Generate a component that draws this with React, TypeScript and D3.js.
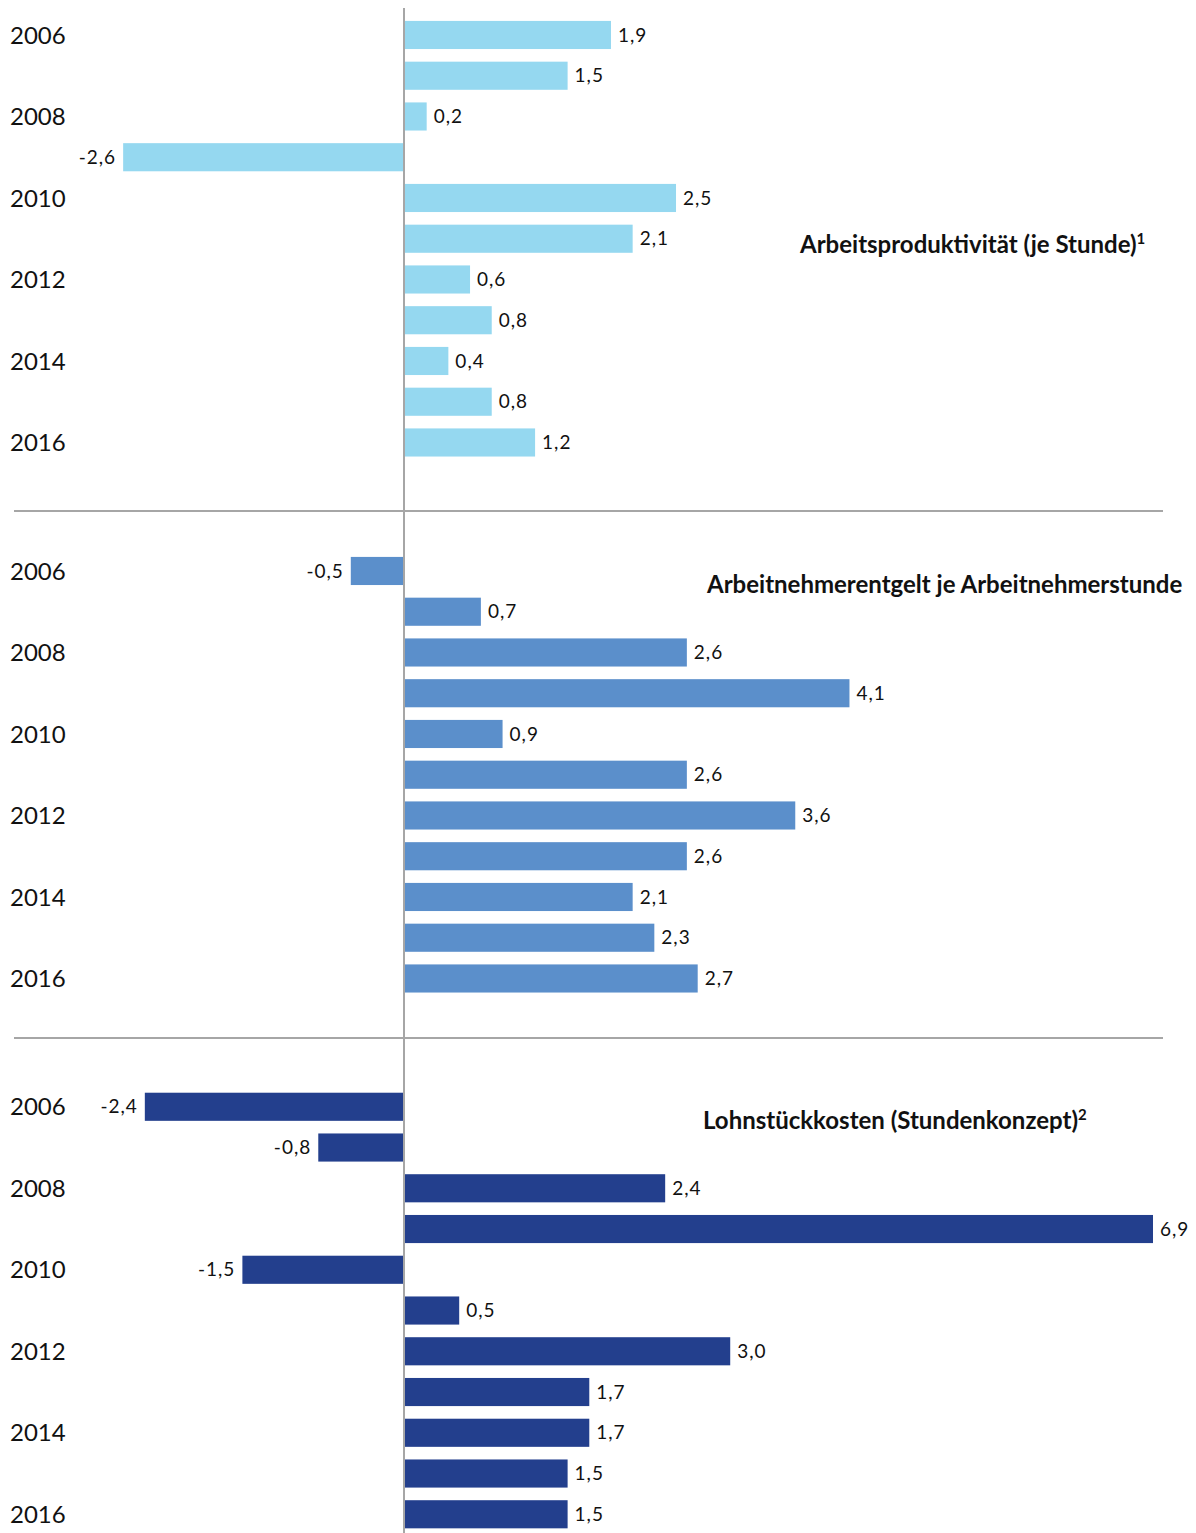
import { useEffect, useRef } from 'react';
import * as d3 from 'd3';

// years shown on the category axis (every other year labelled)
const years = ['2006', '2007', '2008', '2009', '2010', '2011', '2012', '2013', '2014', '2015', '2016'];
const yearLabels = ['2006', '2008', '2010', '2012', '2014', '2016'];

// Veränderung gegenüber Vorjahr in %
const produktivitaet = [1.9, 1.5, 0.2, -2.6, 2.5, 2.1, 0.6, 0.8, 0.4, 0.8, 1.2];
const entgelt = [-0.5, 0.7, 2.6, 4.1, 0.9, 2.6, 3.6, 2.6, 2.1, 2.3, 2.7];
const lohnstueck = [-2.4, -0.8, 2.4, 6.9, -1.5, 0.5, 3.0, 1.7, 1.7, 1.5, 1.5];

const titles = [
	{ text: 'Arbeitsproduktivität (je Stunde)', sup: '1' },
	{ text: 'Arbeitnehmerentgelt je Arbeitnehmerstunde', sup: '' },
	{ text: 'Lohnstückkosten (Stundenkonzept)', sup: '2' },
];
const colors = ['#95d8f0', '#5b8fcb', '#233f8d'];

const App = () => {
	const ref = useRef<SVGSVGElement>(null);

	useEffect(() => {
		const width = 1196,
			height = 1533;
		const svg = d3.select(ref.current).attr('width', width).attr('height', height);
		svg.selectAll('*').remove();

		const x = d3.scaleLinear().domain([0, 6.9]).range([405, 1153]);
		const fmt = (v: number) => d3.format('.1f')(v).replace('.', ',').replace('\u2212', '-');

		const panels = [
			{ data: produktivitaet, top: 14.6, titleX: 800, titleY: 253 },
			{ data: entgelt, top: 550.6, titleX: 707, titleY: 593 },
			{ data: lohnstueck, top: 1086.4, titleX: 703, titleY: 1129 },
		];

		panels.forEach((p, i) => {
			const y = d3
				.scaleBand()
				.domain(years)
				.range([p.top, p.top + 11 * 40.75])
				.paddingInner(0.31)
				.paddingOuter(0.155);

			const g = svg.append('g');

			g.selectAll('rect')
				.data(p.data)
				.join('rect')
				.attr('x', (d) => Math.min(x(0), x(d)))
				.attr('y', (_, j) => y(years[j])!)
				.attr('width', (d) => Math.abs(x(d) - x(0)))
				.attr('height', y.bandwidth())
				.attr('fill', colors[i]);

			g.selectAll('text.val')
				.data(p.data)
				.join('text')
				.attr('class', 'val')
				.attr('x', (d) => (d < 0 ? x(d) - 7 : x(d) + 7))
				.attr('y', (_, j) => y(years[j])! + y.bandwidth() / 2)
				.attr('dy', '0.35em')
				.attr('text-anchor', (d) => (d < 0 ? 'end' : 'start'))
				.style('font-family', 'Lato, sans-serif')
				.style('font-size', '19px')
				.style('letter-spacing', '1px')
				.attr('fill', '#111')
				.text((d) => fmt(d));

			g.selectAll('text.year')
				.data(yearLabels)
				.join('text')
				.attr('class', 'year')
				.attr('x', 10)
				.attr('y', (d) => y(d)! + y.bandwidth() / 2)
				.attr('dy', '0.36em')
				.style('font-family', 'Lato, sans-serif')
				.style('font-size', '24px')
				.attr('fill', '#111')
				.text((d) => d);

			const t = g
				.append('text')
				.attr('x', p.titleX)
				.attr('y', p.titleY)
				.style('font-family', 'Lato, sans-serif')
				.style('font-size', '24px')
				.style('font-weight', 'bold')
				.attr('fill', '#111')
				.text(titles[i].text);
			if (titles[i].sup) {
				t.append('tspan')
					.attr('dy', -9)
					.style('font-size', '15px')
					.text(titles[i].sup);
			}
		});

		// separators between the panels
		[511, 1038].forEach((yy) => {
			svg.append('line')
				.attr('x1', 14)
				.attr('x2', 1163)
				.attr('y1', yy)
				.attr('y2', yy)
				.attr('stroke', '#a6a6a6')
				.attr('stroke-width', 2);
		});

		// zero axis
		svg.append('line')
			.attr('x1', x(0) - 1)
			.attr('x2', x(0) - 1)
			.attr('y1', 8)
			.attr('y2', height)
			.attr('stroke', '#a6a6a6')
			.attr('stroke-width', 2);
	}, []);

	return <svg ref={ref} style={{ position: 'absolute', left: 0, top: 0 }}></svg>;
};

export default App;
